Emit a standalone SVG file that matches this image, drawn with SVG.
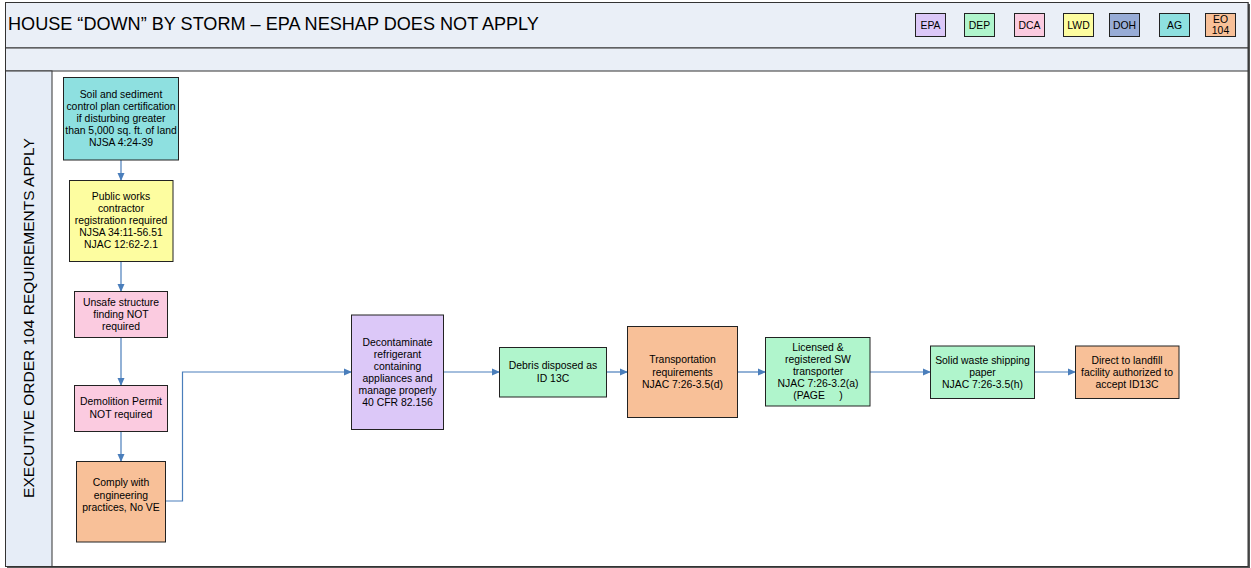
<svg xmlns="http://www.w3.org/2000/svg" width="1251" height="568" viewBox="0 0 1251 568">
<style>
.t{font-family:"Liberation Sans",Arial,sans-serif;font-size:10.4px;fill:#000;text-anchor:middle}
.n{stroke:#222;stroke-width:1}
.c{fill:none;stroke:#4a7ebb;stroke-width:1.2}
.epa{fill:#dcc8f8}.dep{fill:#b0f5cc}.dca{fill:#fbcbe0}.lwd{fill:#fdfda0}.doh{fill:#98acd6}.ag{fill:#8ee0e0}.eo{fill:#f8c098}
</style>
<defs>
<marker id="ah" markerWidth="8" markerHeight="8" refX="7" refY="4" orient="auto" markerUnits="userSpaceOnUse">
<path d="M0,0.5 L8,4 L0,7.5 Z" fill="#4a7ebb"/>
</marker>
</defs>
<rect width="1251" height="568" fill="#fff"/>
<g id="frame">
<rect x="7" y="4" width="1243" height="564" fill="#555"/>
<rect x="5.5" y="2.5" width="1242.5" height="564" fill="#fff" stroke="#333"/>
<rect x="5.5" y="2.5" width="1242.5" height="45.5" fill="#eaeff7" stroke="#333"/>
<rect x="5.5" y="48" width="1242.5" height="23" fill="#eaeff7" stroke="#333"/>
<rect x="5.5" y="71" width="46.5" height="495.5" fill="#e6edf7" stroke="#333"/>
<text x="8" y="30" font-family="Liberation Sans,Arial,sans-serif" font-size="18.1">HOUSE “DOWN” BY STORM – EPA NESHAP DOES NOT APPLY</text>
<text transform="translate(34,318) rotate(-90)" font-family="Liberation Sans,Arial,sans-serif" font-size="15.5" text-anchor="middle">EXECUTIVE ORDER 104 REQUIREMENTS APPLY</text>
</g>
<g id="legend">
<rect class="n epa" x="915.5" y="13.5" width="30" height="23"/><text class="t" x="930.5" y="29">EPA</text>
<rect class="n dep" x="964.5" y="13.5" width="30" height="23"/><text class="t" x="979.5" y="29">DEP</text>
<rect class="n dca" x="1014.5" y="13.5" width="30" height="23"/><text class="t" x="1029.5" y="29">DCA</text>
<rect class="n lwd" x="1063.5" y="13.5" width="30" height="23"/><text class="t" x="1078.5" y="29">LWD</text>
<rect class="n doh" x="1109.5" y="13.5" width="30" height="23"/><text class="t" x="1124.5" y="29">DOH</text>
<rect class="n ag" x="1159.5" y="13.5" width="30" height="23"/><text class="t" x="1174.5" y="29">AG</text>
<rect class="n eo" x="1205.5" y="13.5" width="30" height="23"/><text class="t" x="1220.5" y="23">EO</text><text class="t" x="1220.5" y="34">104</text>
</g>
<g id="connectors">
<line class="c" x1="121" y1="160" x2="121" y2="180" marker-end="url(#ah)"/>
<line class="c" x1="121" y1="262" x2="121" y2="291" marker-end="url(#ah)"/>
<line class="c" x1="121" y1="338" x2="121" y2="385" marker-end="url(#ah)"/>
<line class="c" x1="121" y1="432" x2="121" y2="461" marker-end="url(#ah)"/>
<polyline class="c" points="166,501 182.5,501 182.5,372 351,372" marker-end="url(#ah)"/>
<line class="c" x1="443" y1="372" x2="499" y2="372" marker-end="url(#ah)"/>
<line class="c" x1="607" y1="372" x2="627" y2="372" marker-end="url(#ah)"/>
<line class="c" x1="738" y1="372" x2="765" y2="372" marker-end="url(#ah)"/>
<line class="c" x1="870" y1="372" x2="930" y2="372" marker-end="url(#ah)"/>
<line class="c" x1="1034" y1="372" x2="1075" y2="372" marker-end="url(#ah)"/>
</g>
<g id="soil">
<rect class="n ag" x="63.5" y="77.5" width="115" height="82.5"/>
<text class="t" x="121" y="98">Soil and sediment</text>
<text class="t" x="121" y="110">control plan certification</text>
<text class="t" x="121" y="122">if disturbing greater</text>
<text class="t" x="121" y="134">than 5,000 sq. ft. of land</text>
<text class="t" x="121" y="146">NJSA 4:24-39</text>
</g>
<g id="publicworks">
<rect class="n lwd" x="69.5" y="180.5" width="103.5" height="81"/>
<text class="t" x="121" y="200">Public works</text>
<text class="t" x="121" y="212">contractor</text>
<text class="t" x="121" y="224">registration required</text>
<text class="t" x="121" y="236">NJSA 34:11-56.51</text>
<text class="t" x="121" y="248">NJAC 12:62-2.1</text>
</g>
<g id="unsafe">
<rect class="n dca" x="74.5" y="291.5" width="93" height="46"/>
<text class="t" x="121" y="306">Unsafe structure</text>
<text class="t" x="121" y="318">finding NOT</text>
<text class="t" x="121" y="330">required</text>
</g>
<g id="demolition">
<rect class="n dca" x="74.5" y="385.5" width="93" height="46"/>
<text class="t" x="121" y="405">Demolition Permit</text>
<text class="t" x="121" y="418">NOT required</text>
</g>
<g id="comply">
<rect class="n eo" x="76.5" y="461.5" width="89" height="80.5"/>
<text class="t" x="121" y="486">Comply with</text>
<text class="t" x="121" y="499">engineering</text>
<text class="t" x="121" y="511">practices, No VE</text>
</g>
<g id="decontaminate">
<rect class="n epa" x="351.5" y="315" width="92" height="114.5"/>
<text class="t" x="397.5" y="346">Decontaminate</text>
<text class="t" x="397.5" y="358">refrigerant</text>
<text class="t" x="397.5" y="370">containing</text>
<text class="t" x="397.5" y="382">appliances and</text>
<text class="t" x="397.5" y="394">manage properly</text>
<text class="t" x="397.5" y="406">40 CFR 82.156</text>
</g>
<g id="debris">
<rect class="n dep" x="499.5" y="347.5" width="107" height="49.5"/>
<text class="t" x="553" y="369">Debris disposed as</text>
<text class="t" x="553" y="382">ID 13C</text>
</g>
<g id="transport">
<rect class="n eo" x="627.5" y="326.5" width="110" height="91"/>
<text class="t" x="682.5" y="363">Transportation</text>
<text class="t" x="682.5" y="376">requirements</text>
<text class="t" x="682.5" y="388">NJAC 7:26-3.5(d)</text>
</g>
<g id="licensed">
<rect class="n dep" x="765.5" y="337.5" width="104.5" height="68.5"/>
<text class="t" x="818" y="351">Licensed &amp;</text>
<text class="t" x="818" y="363">registered SW</text>
<text class="t" x="818" y="375">transporter</text>
<text class="t" x="818" y="387">NJAC 7:26-3.2(a)</text>
<text class="t" x="818" y="399" xml:space="preserve">(PAGE     )</text>
</g>
<g id="solidwaste">
<rect class="n dep" x="930.5" y="346" width="104" height="52.5"/>
<text class="t" x="982.5" y="364">Solid waste shipping</text>
<text class="t" x="982.5" y="376">paper</text>
<text class="t" x="982.5" y="388">NJAC 7:26-3.5(h)</text>
</g>
<g id="direct">
<rect class="n eo" x="1075.5" y="346" width="103.5" height="52.5"/>
<text class="t" x="1127" y="364">Direct to landfill</text>
<text class="t" x="1127" y="376">facility authorized to</text>
<text class="t" x="1127" y="388">accept ID13C</text>
</g>
</svg>
